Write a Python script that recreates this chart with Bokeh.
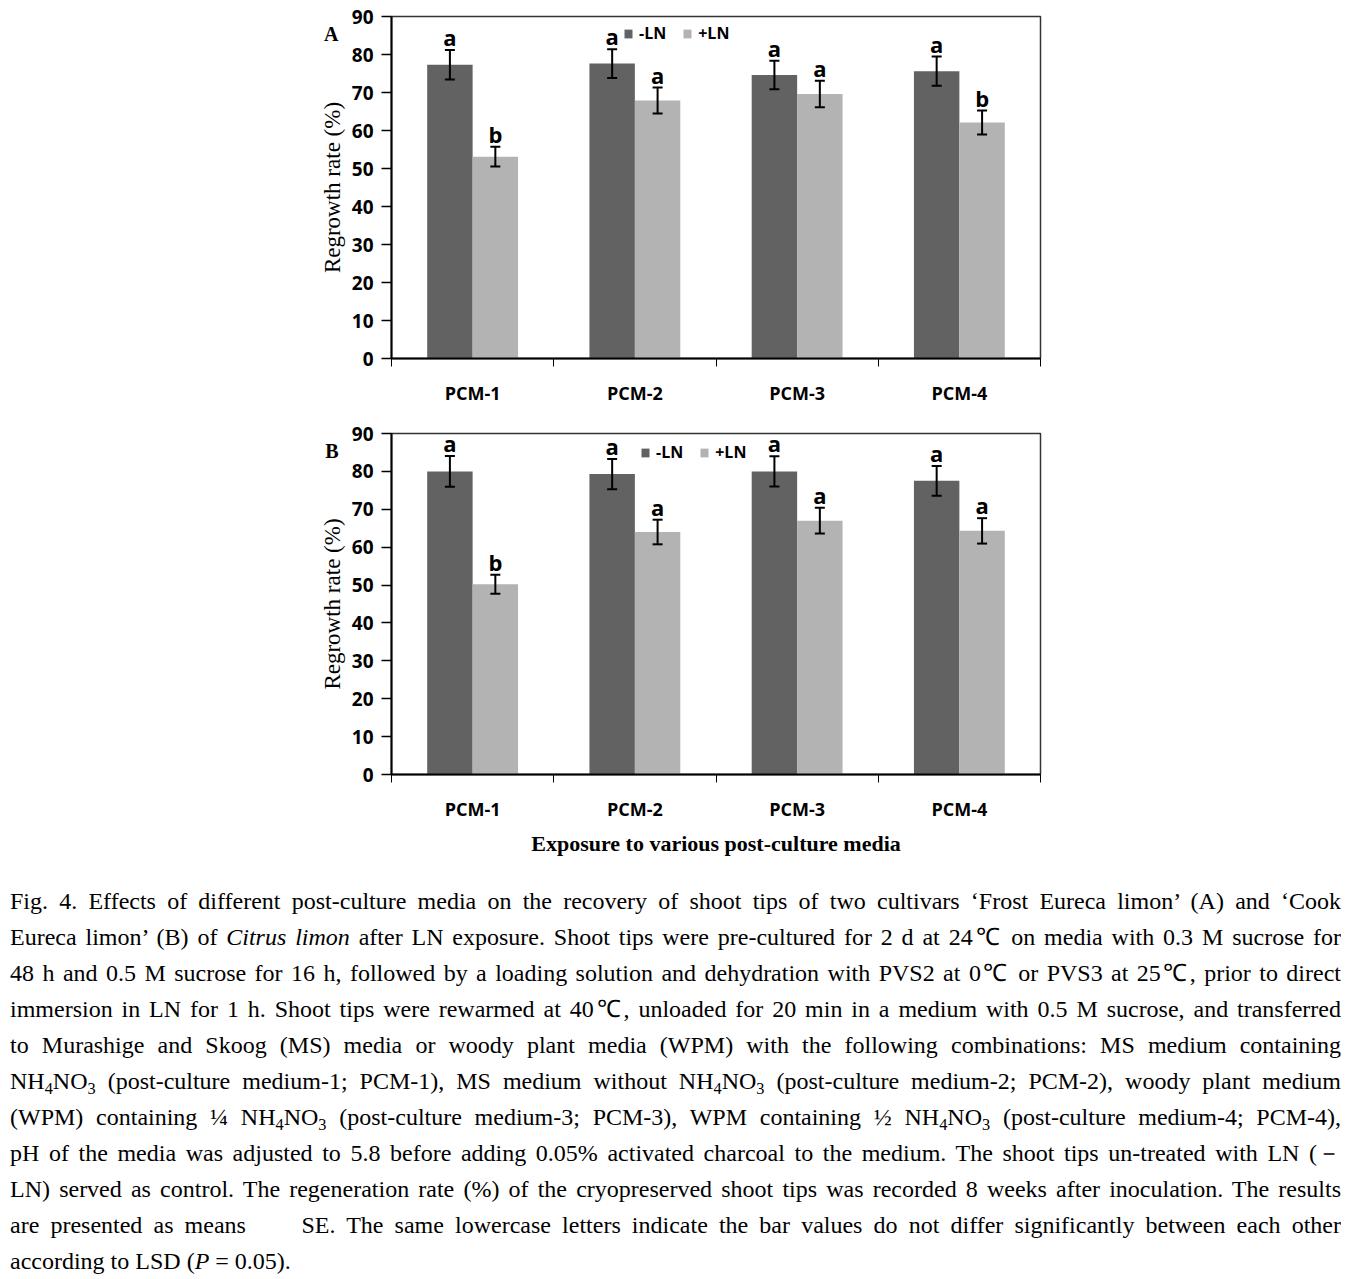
from bokeh.plotting import figure
from bokeh.models import (ColumnDataSource, FixedTicker, Whisker, TeeHead, Legend,
                          LegendItem, LinearAxis, Range1d, Div)
from bokeh.layouts import column
from bokeh.transform import dodge
from bokeh.core.properties import value
from bokeh.embed import file_html
from bokeh.resources import INLINE

# ---------------- data ----------------
categories = ["PCM-1", "PCM-2", "PCM-3", "PCM-4"]
series = ["-LN", "+LN"]
y_ticks = [0, 10, 20, 30, 40, 50, 60, 70, 80, 90]

a_minus = [77.3, 77.6, 74.6, 75.6]
a_minus_se = [3.9, 3.8, 3.75, 3.85]
a_minus_letters = ["a", "a", "a", "a"]
a_plus = [53.1, 67.9, 69.6, 62.1]
a_plus_se = [2.6, 3.4, 3.5, 3.15]
a_plus_letters = ["b", "a", "a", "b"]

b_minus = [80.0, 79.3, 80.0, 77.5]
b_minus_se = [4.05, 4.0, 4.0, 3.9]
b_minus_letters = ["a", "a", "a", "a"]
b_plus = [50.2, 64.0, 67.0, 64.3]
b_plus_se = [2.5, 3.25, 3.4, 3.35]
b_plus_letters = ["b", "a", "a", "a"]

DARK = "#626262"
LIGHT = "#b3b3b3"
BAR_W = 0.28
OFF = 0.14
TICK_FONT = "Open Sans"


def make_panel(letter, minus, minus_se, minus_let, plus, plus_se, plus_let,
               height, border_top, border_bottom, legend_loc, xlabel=None):
    p = figure(width=1361, height=height, output_backend="svg", toolbar_location=None,
               x_range=Range1d(0, 4), y_range=Range1d(0, 90),
               min_border_left=391, min_border_right=321,
               min_border_top=border_top, min_border_bottom=border_bottom)
    p.grid.visible = False
    p.outline_line_color = "#333333"
    p.outline_line_width = 1.5
    p.background_fill_color = "white"
    p.border_fill_color = "white"

    xs = [i + 0.5 for i in range(len(categories))]
    renderers = []
    for vals, ses, lets, off, col in [(minus, minus_se, minus_let, -OFF, DARK),
                                      (plus, plus_se, plus_let, OFF, LIGHT)]:
        src = ColumnDataSource(dict(
            x=xs, v=vals,
            up=[v + e for v, e in zip(vals, ses)],
            lo=[v - e for v, e in zip(vals, ses)],
            ly=[v + e + 3.4 for v, e in zip(vals, ses)],
            let=lets))
        r = p.vbar(x=dodge("x", off), top="v", bottom=0, width=BAR_W, source=src,
                   fill_color=col, line_color=None)
        renderers.append(r)
        w = Whisker(source=src, base=dodge("x", off), upper="up", lower="lo",
                    dimension="height", line_color="black", line_width=2, level="overlay",
                    upper_head=TeeHead(size=10, line_width=2, line_color="black"),
                    lower_head=TeeHead(size=10, line_width=2, line_color="black"))
        p.add_layout(w)
        p.text(x=dodge("x", off), y="ly", text="let", source=src,
               text_align="center", text_baseline="alphabetic",
               text_font=value(TICK_FONT), text_font_style="bold",
               text_font_size="22px", text_color="black")

    # axes
    xa = p.xaxis[0]
    xa.ticker = FixedTicker(ticks=xs, minor_ticks=[0, 1, 2, 3, 4])
    xa.major_label_overrides = {x: c for x, c in zip(xs, categories)}
    xa.major_tick_out = 0
    xa.major_tick_in = 0
    xa.minor_tick_out = 8
    xa.minor_tick_in = 0
    xa.minor_tick_line_color = "black"
    xa.axis_line_color = "black"
    xa.axis_line_width = 2
    xa.major_label_standoff = 14
    xa.major_label_text_font = TICK_FONT
    xa.major_label_text_font_style = "bold"
    xa.major_label_text_font_size = "18px"
    xa.major_label_text_color = "black"
    if xlabel:
        xa.axis_label = xlabel
        xa.axis_label_text_font = "Liberation Serif"
        xa.axis_label_text_font_style = "bold"
        xa.axis_label_text_font_size = "22px"
        xa.axis_label_text_color = "black"
        xa.axis_label_standoff = 7

    ya = p.yaxis[0]
    ya.ticker = FixedTicker(ticks=y_ticks)
    ya.major_tick_out = 10
    ya.major_tick_in = 0
    ya.major_tick_line_width = 1.5
    ya.major_tick_line_color = "black"
    ya.minor_tick_line_color = None
    ya.axis_line_color = "black"
    ya.axis_line_width = 2
    ya.major_label_standoff = 8
    ya.major_label_text_font = TICK_FONT
    ya.major_label_text_font_style = "bold"
    ya.major_label_text_font_size = "19px"
    ya.major_label_text_color = "black"
    ya.axis_label = "Regrowth rate (%)"
    ya.axis_label_text_font = "Liberation Serif"
    ya.axis_label_text_font_style = "normal"
    ya.axis_label_text_font_size = "23px"
    ya.axis_label_text_color = "black"
    ya.axis_label_standoff = 4

    # panel letter: an outer left axis whose single label is the panel letter
    la = LinearAxis(ticker=FixedTicker(ticks=[85.4]), major_label_overrides={85.4: letter},
                    axis_line_color=None, major_tick_line_color=None,
                    minor_tick_line_color=None, major_tick_out=0, major_tick_in=0,
                    major_label_standoff=-22, major_label_orientation="horizontal",
                    major_label_text_font="Liberation Serif",
                    major_label_text_font_style="bold",
                    major_label_text_font_size="20px", major_label_text_color="black")
    p.add_layout(la, "left")

    legend = Legend(items=[LegendItem(label=s, renderers=[r]) for s, r in zip(series, renderers)],
                    location=legend_loc, orientation="horizontal",
                    glyph_width=10, glyph_height=11, label_standoff=6, spacing=16,
                    padding=0, margin=0, border_line_color=None,
                    background_fill_alpha=0,
                    label_text_font=TICK_FONT, label_text_font_style="bold",
                    label_text_font_size="16px", label_text_color="black")
    p.add_layout(legend)
    return p


pa = make_panel("A", a_minus, a_minus_se, a_minus_letters, a_plus, a_plus_se, a_plus_letters,
                height=415, border_top=16, border_bottom=57, legend_loc=(232, 314))
pb = make_panel("B", b_minus, b_minus_se, b_minus_letters, b_plus, b_plus_se, b_plus_letters,
                height=450, border_top=18, border_bottom=91, legend_loc=(249, 311),
                xlabel="Exposure to various post-culture media")

NH = "NH<sub>4</sub>NO<sub>3</sub>"
caption_lines = [
    "Fig. 4. Effects of different post-culture media on the recovery of shoot tips of two cultivars \u2018Frost Eureca limon\u2019 (A) and \u2018Cook",
    "Eureca limon\u2019 (B) of <i>Citrus limon</i> after LN exposure. Shoot tips were pre-cultured for 2 d at 24\u2103 on media with 0.3 M sucrose for",
    "48 h and 0.5 M sucrose for 16 h, followed by a loading solution and dehydration with PVS2 at 0\u2103 or PVS3 at 25\u2103, prior to direct",
    "immersion in LN for 1 h. Shoot tips were rewarmed at 40\u2103, unloaded for 20 min in a medium with 0.5 M sucrose, and transferred",
    "to Murashige and Skoog (MS) media or woody plant media (WPM) with the following combinations: MS medium containing",
    NH + " (post-culture medium-1; PCM-1), MS medium without " + NH + " (post-culture medium-2; PCM-2), woody plant medium",
    "(WPM) containing \u00bc " + NH + " (post-culture medium-3; PCM-3), WPM containing \u00bd " + NH + " (post-culture medium-4; PCM-4),",
    "pH of the media was adjusted to 5.8 before adding 0.05% activated charcoal to the medium. The shoot tips un-treated with LN (\uff0d",
    "LN) served as control. The regeneration rate (%) of the cryopreserved shoot tips was recorded 8 weeks after inoculation. The results",
    "are presented as means &nbsp;&nbsp;&nbsp; SE. The same lowercase letters indicate the bar values do not differ significantly between each other",
    "according to LSD (<i>P</i> = 0.05).",
]
sub_style = "<style>sub{font-size:0.68em;line-height:0;vertical-align:-0.28em;}</style>"
inner = "".join('<div style="text-align:justify;text-align-last:justify;">%s</div>' % l
                for l in caption_lines[:-1])
inner += '<div style="text-align:left;">%s</div>' % caption_lines[-1]
html = (sub_style +
        '<div style="width:1341px;height:414px;overflow:hidden;box-sizing:border-box;'
        'padding:18px 0 0 10px;font-family:\'Liberation Serif\';font-size:24px;'
        'line-height:36px;color:#000;">' + inner + '</div>')
cap = Div(text=html, width=1361, height=414, margin=(0, 0, 0, 0))

layout = column(pa, pb, cap, spacing=0)
open("out.html", "w").write(file_html(layout, INLINE))
